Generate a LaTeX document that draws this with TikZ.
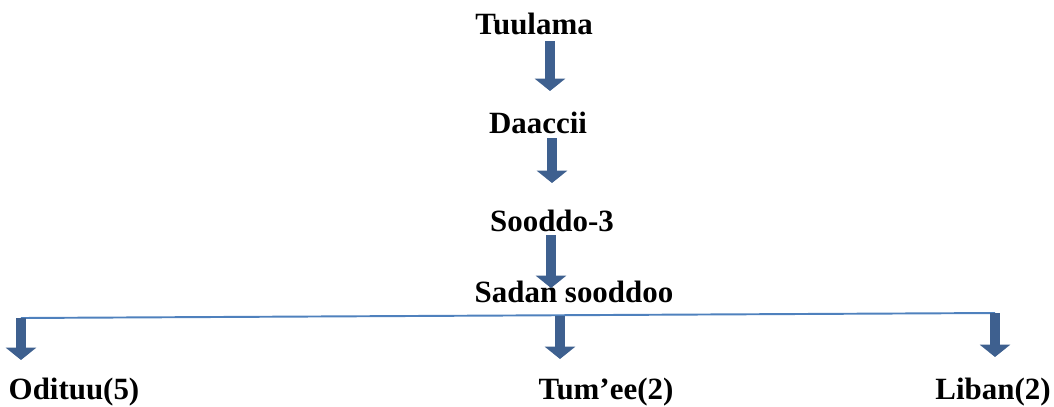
\documentclass[tikz,border=0pt]{standalone}
\usepackage{fontspec}
\setmainfont{Liberation Serif}
\usetikzlibrary{arrows.meta,positioning}
\definecolor{arrowblue}{RGB}{62,96,143}
\definecolor{lineblue}{RGB}{79,129,189}
\tikzset{
  lbl/.style={anchor=base,font=\bfseries\fontsize{17.6}{20}\selectfont,inner sep=0pt},
  blockarrow/.style={color=arrowblue,line width=5.4pt,-{Triangle[width=17pt,length=7pt]}},
  branch/.style={color=lineblue,line width=1.1pt}
}

\begin{document}
\begin{tikzpicture}[x=0.02cm,y=-0.02cm]
\useasboundingbox (0,0) rectangle (1054,406);
\node[lbl] (tuulama) at (534,34) {Tuulama};
\node[lbl] (daaccii) at (538,133) {Daaccii};
\node[lbl] (sooddo) at (552,231) {Sooddo-3};
\node[lbl] (sadan) at (574,302) {Sadan sooddoo};
\node[lbl] (odituu) at (74,399) {Odituu(5)};
\node[lbl] (tumee) at (606,399) {Tum’ee(2)};
\node[lbl] (liban) at (993,399) {Liban(2)};
% arrow ends
\coordinate (a1) at (550,41);
\coordinate (b1) at (550,91);
\coordinate (a2) at (552,138);
\coordinate (b2) at (552,183);
\coordinate (a3) at (551,235);
\coordinate (b3) at (551,288);
\coordinate (lineL) at (21,318);
\coordinate (lineM) at (560,316);
\coordinate (lineR) at (995,313);
\coordinate (c1) at (21,360);
\coordinate (c2) at (560,359);
\coordinate (c3) at (995,357);
\path[branch] (lineL) edge (lineR);
\path[blockarrow]
(a1) edge (b1)
(a2) edge (b2)
(a3) edge (b3)
(lineL) edge (c1)
(lineM) edge (c2)
(lineR) edge (c3);
\end{tikzpicture}
\end{document}
